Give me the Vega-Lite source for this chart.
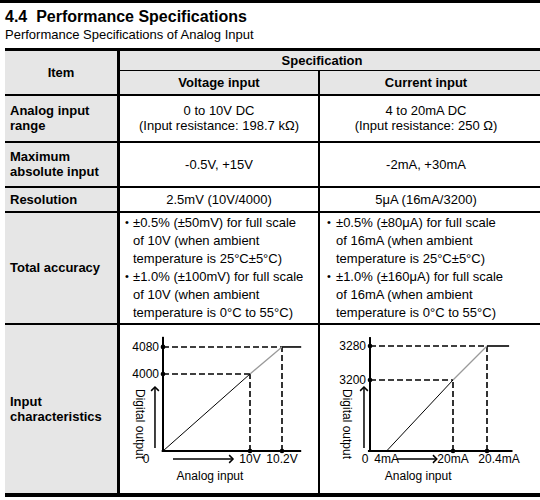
{
"$schema": "https://vega.github.io/schema/vega-lite/v6.json",
"padding": 0,
"background": "white",
"config": {
 "view": {"stroke": null},
 "concat": {"spacing": 0},
 "axis": {"disable": true},
 "text": {"font": "Liberation Sans", "fontSize": 13, "fill": "black"},
 "rule": {"color": "black"},
 "point": {"color": "black", "opacity": 1}
},
"datasets": {
 "header": [{"item": "Item", "spec": "Specification", "voltage": "Voltage input", "current": "Current input"}],
 "spec": [
  {"row": 1, "item": ["Analog input", "range"], "voltage": ["0 to 10V DC", "(Input resistance: 198.7 kΩ)"], "current": ["4 to 20mA DC", "(Input resistance: 250 Ω)"]},
  {"row": 2, "item": ["Maximum", "absolute input"], "voltage": "-0.5V, +15V", "current": "-2mA, +30mA"},
  {"row": 3, "item": "Resolution", "voltage": "2.5mV (10V/4000)", "current": "5μA (16mA/3200)"},
  {"row": 4, "item": "Total accuracy",
   "voltage": ["±0.5% (±50mV) for full scale", "of 10V (when ambient", "temperature is 25°C±5°C)", "±1.0% (±100mV) for full scale", "of 10V (when ambient", "temperature is 0°C to 55°C)"],
   "current": ["±0.5% (±80μA) for full scale", "of 16mA (when ambient", "temperature is 25°C±5°C)", "±1.0% (±160μA) for full scale", "of 16mA (when ambient", "temperature is 0°C to 55°C)"]},
  {"row": 5, "item": ["Input", "characteristics"]}
 ],
 "voltage_curve": [
  {"input": 0, "output": 0, "label": "0"},
  {"input": 10, "output": 4000, "label": "10V"},
  {"input": 10.2, "output": 4080, "label": "10.2V"}
 ],
 "voltage_lines": [
  {"part": "axis", "from_in": -0.15, "from_out": 0, "to_in": 10.32, "to_out": 0},
  {"part": "axis", "from_in": 0, "from_out": 0, "to_in": 0, "to_out": 4110},
  {"part": "guide", "from_in": 0, "from_out": 4000, "to_in": 10, "to_out": 4000},
  {"part": "guide", "from_in": 10, "from_out": 0, "to_in": 10, "to_out": 4000},
  {"part": "guide", "from_in": 0, "from_out": 4080, "to_in": 10.2, "to_out": 4080},
  {"part": "guide", "from_in": 10.2, "from_out": 0, "to_in": 10.2, "to_out": 4080},
  {"part": "conversion", "from_in": 0, "from_out": 0, "to_in": 10, "to_out": 4000},
  {"part": "over range", "from_in": 10, "from_out": 4000, "to_in": 10.2, "to_out": 4080},
  {"part": "limit", "from_in": 10.2, "from_out": 4080, "to_in": 10.32, "to_out": 4080},
  {"part": "arrow", "from_in": 1.15, "from_out": -416, "to_in": 8.05, "to_out": -416},
  {"part": "arrow", "from_in": -0.92, "from_out": 156, "to_in": -0.92, "to_out": 3325}
 ],
 "current_curve": [
  {"input": 0, "output": 0, "label": "0"},
  {"input": 4, "output": 0, "label": "4mA"},
  {"input": 20, "output": 3200, "label": "20mA"},
  {"input": 20.4, "output": 3280, "label": "20.4mA"}
 ],
 "current_lines": [
  {"part": "axis", "from_in": -0.5, "from_out": 0, "to_in": 20.7, "to_out": 0},
  {"part": "axis", "from_in": 0, "from_out": 0, "to_in": 0, "to_out": 3301},
  {"part": "guide", "from_in": 0, "from_out": 3200, "to_in": 20, "to_out": 3200},
  {"part": "guide", "from_in": 20, "from_out": 0, "to_in": 20, "to_out": 3200},
  {"part": "guide", "from_in": 0, "from_out": 3280, "to_in": 20.4, "to_out": 3280},
  {"part": "guide", "from_in": 20.4, "from_out": 0, "to_in": 20.4, "to_out": 3280},
  {"part": "conversion", "from_in": 4, "from_out": 0, "to_in": 20, "to_out": 3200},
  {"part": "over range", "from_in": 20, "from_out": 3200, "to_in": 20.4, "to_out": 3280},
  {"part": "limit", "from_in": 20.4, "from_out": 3280, "to_in": 20.66, "to_out": 3280},
  {"part": "arrow", "from_in": 6.5, "from_out": -361, "to_in": 16.1, "to_out": -361},
  {"part": "arrow", "from_in": -1.45, "from_out": 135, "to_in": -1.45, "to_out": 2884}
 ]
},
"spacing": 6,
"vconcat": [
 {"width": 540, "height": 3, "view": {"fill": "black", "stroke": null}, "data": {"values": []}, "mark": "text", "encoding": {}},
 {
  "title": {"text": "4.4\u00a0\u00a0Performance Specifications", "subtitle": "Performance Specifications of Analog Input", "anchor": "start", "frame": "group", "dx": 5, "font": "Liberation Sans", "fontSize": 16, "fontWeight": "bold", "color": "black", "subtitleFont": "Liberation Sans", "subtitleFontSize": 13, "subtitleFontWeight": "normal", "subtitleColor": "black", "subtitlePadding": 4, "offset": 6},
  "spacing": 0, "bounds": "full",
  "hconcat": [
   {"width": 5, "height": 10, "data": {"values": []}, "mark": "text", "encoding": {}},
   {
    "spacing": 0, "bounds": "full",
    "vconcat": [
     {"width": 535, "height": 3, "view": {"fill": "black", "stroke": null}, "data": {"values": []}, "mark": "text", "encoding": {}},
     {"spacing": 0, "bounds": "full", "hconcat": [
       {"width": 112, "height": 43, "view": {"fill": "#e6e6e6", "stroke": null}, "data": {"name": "header"}, "mark": {"type": "text", "fontWeight": "bold", "align": "center", "baseline": "middle"}, "encoding": {"text": {"field": "item", "type": "nominal"}}},
       {"width": 3, "height": 43, "view": {"fill": "black", "stroke": null}, "data": {"values": []}, "mark": "text", "encoding": {}},
       {"spacing": 0, "bounds": "full", "vconcat": [
         {"width": 420, "height": 19, "view": {"fill": "#e6e6e6", "stroke": null}, "data": {"name": "header"}, "mark": {"type": "text", "fontWeight": "bold", "align": "center", "baseline": "middle", "dx": -8}, "encoding": {"text": {"field": "spec", "type": "nominal"}}},
         {"width": 420, "height": 1, "view": {"fill": "black", "stroke": null}, "data": {"values": []}, "mark": "text", "encoding": {}},
         {"spacing": 0, "bounds": "flush", "hconcat": [
           {"width": 198, "height": 23, "view": {"fill": "#e6e6e6", "stroke": null}, "data": {"name": "header"}, "mark": {"type": "text", "fontWeight": "bold", "align": "center", "baseline": "middle"}, "encoding": {"text": {"field": "voltage", "type": "nominal"}}},
           {"width": 2, "height": 23, "view": {"fill": "black", "stroke": null}, "data": {"values": []}, "mark": "text", "encoding": {}},
           {"width": 220, "height": 23, "view": {"fill": "#e6e6e6", "stroke": null}, "data": {"name": "header"}, "mark": {"type": "text", "fontWeight": "bold", "align": "center", "baseline": "middle", "dx": -4}, "encoding": {"text": {"field": "current", "type": "nominal"}}}
         ]}
       ]}
     ]},
     {"width": 535, "height": 2, "view": {"fill": "black", "stroke": null}, "data": {"values": []}, "mark": "text", "encoding": {}},
     {"spacing": 0, "bounds": "flush", "hconcat": [
       {"width": 112, "height": 45, "view": {"fill": "#e6e6e6", "stroke": null}, "data": {"name": "spec"}, "transform": [{"filter": "datum.row == 1"}], "mark": {"type": "text", "fontWeight": "bold", "align": "left", "baseline": "middle", "lineHeight": 15, "dy": -7.5}, "encoding": {"text": {"field": "item", "type": "nominal"}, "x": {"value": 5}}},
       {"width": 3, "height": 45, "view": {"fill": "black", "stroke": null}, "data": {"values": []}, "mark": "text", "encoding": {}},
       {"width": 198, "height": 45, "data": {"name": "spec"}, "transform": [{"filter": "datum.row == 1"}], "mark": {"type": "text", "align": "center", "baseline": "middle", "lineHeight": 15, "dy": -7.5}, "encoding": {"text": {"field": "voltage", "type": "nominal"}}},
       {"width": 2, "height": 45, "view": {"fill": "black", "stroke": null}, "data": {"values": []}, "mark": "text", "encoding": {}},
       {"width": 220, "height": 45, "data": {"name": "spec"}, "transform": [{"filter": "datum.row == 1"}], "mark": {"type": "text", "align": "center", "baseline": "middle", "lineHeight": 15, "dy": -7.5, "dx": -4}, "encoding": {"text": {"field": "current", "type": "nominal"}}}
     ]},
     {"width": 535, "height": 2, "view": {"fill": "black", "stroke": null}, "data": {"values": []}, "mark": "text", "encoding": {}},
     {"spacing": 0, "bounds": "flush", "hconcat": [
       {"width": 112, "height": 43, "view": {"fill": "#e6e6e6", "stroke": null}, "data": {"name": "spec"}, "transform": [{"filter": "datum.row == 2"}], "mark": {"type": "text", "fontWeight": "bold", "align": "left", "baseline": "middle", "lineHeight": 15, "dy": -7.5}, "encoding": {"text": {"field": "item", "type": "nominal"}, "x": {"value": 5}}},
       {"width": 3, "height": 43, "view": {"fill": "black", "stroke": null}, "data": {"values": []}, "mark": "text", "encoding": {}},
       {"width": 198, "height": 43, "data": {"name": "spec"}, "transform": [{"filter": "datum.row == 2"}], "mark": {"type": "text", "align": "center", "baseline": "middle"}, "encoding": {"text": {"field": "voltage", "type": "nominal"}}},
       {"width": 2, "height": 43, "view": {"fill": "black", "stroke": null}, "data": {"values": []}, "mark": "text", "encoding": {}},
       {"width": 220, "height": 43, "data": {"name": "spec"}, "transform": [{"filter": "datum.row == 2"}], "mark": {"type": "text", "align": "center", "baseline": "middle", "dx": -4}, "encoding": {"text": {"field": "current", "type": "nominal"}}}
     ]},
     {"width": 535, "height": 2, "view": {"fill": "black", "stroke": null}, "data": {"values": []}, "mark": "text", "encoding": {}},
     {"spacing": 0, "bounds": "flush", "hconcat": [
       {"width": 112, "height": 23, "view": {"fill": "#e6e6e6", "stroke": null}, "data": {"name": "spec"}, "transform": [{"filter": "datum.row == 3"}], "mark": {"type": "text", "fontWeight": "bold", "align": "left", "baseline": "middle"}, "encoding": {"text": {"field": "item", "type": "nominal"}, "x": {"value": 5}}},
       {"width": 3, "height": 23, "view": {"fill": "black", "stroke": null}, "data": {"values": []}, "mark": "text", "encoding": {}},
       {"width": 198, "height": 23, "data": {"name": "spec"}, "transform": [{"filter": "datum.row == 3"}], "mark": {"type": "text", "align": "center", "baseline": "middle"}, "encoding": {"text": {"field": "voltage", "type": "nominal"}}},
       {"width": 2, "height": 23, "view": {"fill": "black", "stroke": null}, "data": {"values": []}, "mark": "text", "encoding": {}},
       {"width": 220, "height": 23, "data": {"name": "spec"}, "transform": [{"filter": "datum.row == 3"}], "mark": {"type": "text", "align": "center", "baseline": "middle", "dx": -4}, "encoding": {"text": {"field": "current", "type": "nominal"}}}
     ]},
     {"width": 535, "height": 2, "view": {"fill": "black", "stroke": null}, "data": {"values": []}, "mark": "text", "encoding": {}},
     {"spacing": 0, "bounds": "flush", "hconcat": [
       {"width": 112, "height": 110, "view": {"fill": "#e6e6e6", "stroke": null}, "data": {"name": "spec"}, "transform": [{"filter": "datum.row == 4"}], "mark": {"type": "text", "fontWeight": "bold", "align": "left", "baseline": "middle"}, "encoding": {"text": {"field": "item", "type": "nominal"}, "x": {"value": 5}}},
       {"width": 3, "height": 110, "view": {"fill": "black", "stroke": null}, "data": {"values": []}, "mark": "text", "encoding": {}},
       {"width": 198, "height": 110, "data": {"name": "spec"}, "transform": [{"filter": "datum.row == 4"}], "layer": [
         {"mark": {"type": "text", "align": "left", "baseline": "middle", "fontSize": 11, "dy": -45}, "encoding": {"text": {"value": "•"}, "x": {"value": 5}}},
         {"mark": {"type": "text", "align": "left", "baseline": "middle", "fontSize": 11, "dy": 9}, "encoding": {"text": {"value": "•"}, "x": {"value": 5}}},
         {"mark": {"type": "text", "align": "left", "baseline": "middle", "lineHeight": 18, "dy": -45}, "encoding": {"text": {"field": "voltage", "type": "nominal"}, "x": {"value": 13}}}
       ]},
       {"width": 2, "height": 110, "view": {"fill": "black", "stroke": null}, "data": {"values": []}, "mark": "text", "encoding": {}},
       {"width": 220, "height": 110, "data": {"name": "spec"}, "transform": [{"filter": "datum.row == 4"}], "layer": [
         {"mark": {"type": "text", "align": "left", "baseline": "middle", "fontSize": 11, "dy": -45}, "encoding": {"text": {"value": "•"}, "x": {"value": 7}}},
         {"mark": {"type": "text", "align": "left", "baseline": "middle", "fontSize": 11, "dy": 9}, "encoding": {"text": {"value": "•"}, "x": {"value": 7}}},
         {"mark": {"type": "text", "align": "left", "baseline": "middle", "lineHeight": 18, "dy": -45}, "encoding": {"text": {"field": "current", "type": "nominal"}, "x": {"value": 16}}}
       ]}
     ]},
     {"width": 535, "height": 2, "view": {"fill": "black", "stroke": null}, "data": {"values": []}, "mark": "text", "encoding": {}},
     {"spacing": 0, "bounds": "flush", "hconcat": [
       {"width": 112, "height": 168, "view": {"fill": "#e6e6e6", "stroke": null}, "data": {"name": "spec"}, "transform": [{"filter": "datum.row == 5"}], "mark": {"type": "text", "fontWeight": "bold", "align": "left", "baseline": "middle", "lineHeight": 15, "dy": -7.5}, "encoding": {"text": {"field": "item", "type": "nominal"}, "x": {"value": 5}}},
       {"width": 3, "height": 168, "view": {"fill": "black", "stroke": null}, "data": {"values": []}, "mark": "text", "encoding": {}},
       {"width": 198, "height": 168, "layer": [
         {"data": {"name": "voltage_lines"}, "transform": [{"filter": "datum.part == 'axis'"}], "mark": {"type": "rule", "strokeWidth": 2}, "encoding": {"x": {"field": "from_in", "type": "quantitative", "scale": {"domain": [-4.94, 10, 10.425], "range": [0, 130, 198], "nice": false, "zero": false}}, "x2": {"field": "to_in"}, "y": {"field": "from_out", "type": "quantitative", "scale": {"domain": [-2182, 4000, 4145], "range": [168, 49, 0], "nice": false, "zero": false}}, "y2": {"field": "to_out"}}},
         {"data": {"name": "voltage_lines"}, "transform": [{"filter": "datum.part == 'guide'"}], "mark": {"type": "rule", "strokeDash": [6, 3], "strokeWidth": 1.6}, "encoding": {"x": {"field": "from_in", "type": "quantitative"}, "x2": {"field": "to_in"}, "y": {"field": "from_out", "type": "quantitative"}, "y2": {"field": "to_out"}}},
         {"data": {"name": "voltage_lines"}, "transform": [{"filter": "datum.part == 'conversion' || datum.part == 'over range' || datum.part == 'limit'"}], "mark": {"type": "rule"}, "encoding": {"x": {"field": "from_in", "type": "quantitative"}, "x2": {"field": "to_in"}, "y": {"field": "from_out", "type": "quantitative"}, "y2": {"field": "to_out"}, "color": {"field": "part", "type": "nominal", "scale": {"domain": ["conversion", "over range", "limit"], "range": ["#000000", "#9a9a9a", "#000000"]}, "legend": null}, "strokeWidth": {"field": "part", "type": "ordinal", "scale": {"domain": ["conversion", "over range", "limit"], "range": [1, 1.6, 2]}, "legend": null}}},
         {"data": {"name": "voltage_lines"}, "transform": [{"filter": "datum.part == 'arrow'"}], "mark": {"type": "rule", "strokeWidth": 1.5}, "encoding": {"x": {"field": "from_in", "type": "quantitative"}, "x2": {"field": "to_in"}, "y": {"field": "from_out", "type": "quantitative"}, "y2": {"field": "to_out"}}},
         {"data": {"name": "voltage_lines"}, "transform": [{"filter": "datum.part == 'arrow' && datum.from_out == datum.to_out"}], "mark": {"type": "point", "shape": "M -1 -1 L 0 0 L -1 1", "filled": false, "size": 60, "strokeWidth": 1.5}, "encoding": {"x": {"field": "to_in", "type": "quantitative"}, "y": {"field": "to_out", "type": "quantitative"}}},
         {"data": {"name": "voltage_lines"}, "transform": [{"filter": "datum.part == 'arrow' && datum.from_in == datum.to_in"}], "mark": {"type": "point", "shape": "M -1 1 L 0 0 L 1 1", "filled": false, "size": 60, "strokeWidth": 1.5}, "encoding": {"x": {"field": "to_in", "type": "quantitative"}, "y": {"field": "to_out", "type": "quantitative"}}},
         {"data": {"name": "voltage_curve"}, "transform": [{"filter": "datum.output > 0"}], "mark": {"type": "point", "filled": true, "size": 22}, "encoding": {"x": {"datum": 0}, "y": {"field": "output", "type": "quantitative"}}},
         {"data": {"name": "voltage_curve"}, "transform": [{"filter": "datum.output > 0"}], "mark": {"type": "point", "filled": true, "size": 22}, "encoding": {"x": {"field": "input", "type": "quantitative"}, "y": {"datum": 0}}},
         {"data": {"name": "voltage_curve"}, "transform": [{"filter": "datum.output > 0"}], "mark": {"type": "text", "align": "right", "baseline": "middle", "dx": -4, "fontSize": 12}, "encoding": {"x": {"datum": 0}, "y": {"field": "output", "type": "quantitative"}, "text": {"field": "output", "type": "quantitative", "format": "d"}}},
         {"data": {"name": "voltage_curve"}, "transform": [{"filter": "datum.input > 0"}], "mark": {"type": "text", "align": "center", "baseline": "middle", "dy": 8, "fontSize": 12}, "encoding": {"x": {"field": "input", "type": "quantitative"}, "y": {"datum": 0}, "text": {"field": "label", "type": "nominal"}}},
         {"data": {"name": "voltage_curve"}, "transform": [{"filter": "datum.input == 0"}], "mark": {"type": "text", "align": "center", "baseline": "middle", "dy": 8, "dx": -17, "fontSize": 12}, "encoding": {"x": {"field": "input", "type": "quantitative"}, "y": {"datum": 0}, "text": {"field": "label", "type": "nominal"}}},
         {"data": {"values": [{"text": "Digital output"}]}, "mark": {"type": "text", "angle": 90, "align": "center", "baseline": "middle", "fontSize": 12}, "encoding": {"x": {"datum": -2.64}, "y": {"datum": 1400}, "text": {"field": "text", "type": "nominal"}}},
         {"data": {"values": [{"text": "Analog input"}]}, "mark": {"type": "text", "align": "center", "baseline": "middle", "dy": 25, "fontSize": 12}, "encoding": {"x": {"datum": 5.4}, "y": {"datum": 0}, "text": {"field": "text", "type": "nominal"}}}
       ]},
       {"width": 2, "height": 168, "view": {"fill": "black", "stroke": null}, "data": {"values": []}, "mark": "text", "encoding": {}},
       {"width": 220, "height": 168, "layer": [
         {"data": {"name": "current_lines"}, "transform": [{"filter": "datum.part == 'axis'"}], "mark": {"type": "rule", "strokeWidth": 2}, "encoding": {"x": {"field": "from_in", "type": "quantitative", "scale": {"domain": [-12.05, 20, 21.0235], "range": [0, 133, 220], "nice": false, "zero": false}}, "x2": {"field": "to_in"}, "y": {"field": "from_out", "type": "quantitative", "scale": {"domain": [-1893, 3200, 3329.4], "range": [168, 55, 0], "nice": false, "zero": false}}, "y2": {"field": "to_out"}}},
         {"data": {"name": "current_lines"}, "transform": [{"filter": "datum.part == 'guide'"}], "mark": {"type": "rule", "strokeDash": [6, 3], "strokeWidth": 1.6}, "encoding": {"x": {"field": "from_in", "type": "quantitative"}, "x2": {"field": "to_in"}, "y": {"field": "from_out", "type": "quantitative"}, "y2": {"field": "to_out"}}},
         {"data": {"name": "current_lines"}, "transform": [{"filter": "datum.part == 'conversion' || datum.part == 'over range' || datum.part == 'limit'"}], "mark": {"type": "rule"}, "encoding": {"x": {"field": "from_in", "type": "quantitative"}, "x2": {"field": "to_in"}, "y": {"field": "from_out", "type": "quantitative"}, "y2": {"field": "to_out"}, "color": {"field": "part", "type": "nominal", "scale": {"domain": ["conversion", "over range", "limit"], "range": ["#000000", "#9a9a9a", "#000000"]}, "legend": null}, "strokeWidth": {"field": "part", "type": "ordinal", "scale": {"domain": ["conversion", "over range", "limit"], "range": [1, 1.6, 2]}, "legend": null}}},
         {"data": {"name": "current_lines"}, "transform": [{"filter": "datum.part == 'arrow'"}], "mark": {"type": "rule", "strokeWidth": 1.5}, "encoding": {"x": {"field": "from_in", "type": "quantitative"}, "x2": {"field": "to_in"}, "y": {"field": "from_out", "type": "quantitative"}, "y2": {"field": "to_out"}}},
         {"data": {"name": "current_lines"}, "transform": [{"filter": "datum.part == 'arrow' && datum.from_out == datum.to_out"}], "mark": {"type": "point", "shape": "M -1 -1 L 0 0 L -1 1", "filled": false, "size": 60, "strokeWidth": 1.5}, "encoding": {"x": {"field": "to_in", "type": "quantitative"}, "y": {"field": "to_out", "type": "quantitative"}}},
         {"data": {"name": "current_lines"}, "transform": [{"filter": "datum.part == 'arrow' && datum.from_in == datum.to_in"}], "mark": {"type": "point", "shape": "M -1 1 L 0 0 L 1 1", "filled": false, "size": 60, "strokeWidth": 1.5}, "encoding": {"x": {"field": "to_in", "type": "quantitative"}, "y": {"field": "to_out", "type": "quantitative"}}},
         {"data": {"name": "current_curve"}, "transform": [{"filter": "datum.output > 0"}], "mark": {"type": "point", "filled": true, "size": 22}, "encoding": {"x": {"datum": 0}, "y": {"field": "output", "type": "quantitative"}}},
         {"data": {"name": "current_curve"}, "transform": [{"filter": "datum.output > 0"}], "mark": {"type": "point", "filled": true, "size": 22}, "encoding": {"x": {"field": "input", "type": "quantitative"}, "y": {"datum": 0}}},
         {"data": {"name": "current_curve"}, "transform": [{"filter": "datum.output > 0"}], "mark": {"type": "text", "align": "right", "baseline": "middle", "dx": -4, "fontSize": 12}, "encoding": {"x": {"datum": 0}, "y": {"field": "output", "type": "quantitative"}, "text": {"field": "output", "type": "quantitative", "format": "d"}}},
         {"data": {"name": "current_curve"}, "transform": [{"filter": "datum.input > 0 && datum.input < 20.2"}], "mark": {"type": "text", "align": "center", "baseline": "middle", "dy": 8, "fontSize": 12}, "encoding": {"x": {"field": "input", "type": "quantitative"}, "y": {"datum": 0}, "text": {"field": "label", "type": "nominal"}}},
         {"data": {"name": "current_curve"}, "transform": [{"filter": "datum.input > 20.2"}], "mark": {"type": "text", "align": "center", "baseline": "middle", "dy": 8, "dx": 12, "fontSize": 12}, "encoding": {"x": {"field": "input", "type": "quantitative"}, "y": {"datum": 0}, "text": {"field": "label", "type": "nominal"}}},
         {"data": {"name": "current_curve"}, "transform": [{"filter": "datum.input == 0"}], "mark": {"type": "text", "align": "center", "baseline": "middle", "dy": 8, "dx": -5, "fontSize": 12}, "encoding": {"x": {"field": "input", "type": "quantitative"}, "y": {"datum": 0}, "text": {"field": "label", "type": "nominal"}}},
         {"data": {"values": [{"text": "Digital output"}]}, "mark": {"type": "text", "angle": 90, "align": "center", "baseline": "middle", "fontSize": 12}, "encoding": {"x": {"datum": -5.54}, "y": {"datum": 1217}, "text": {"field": "text", "type": "nominal"}}},
         {"data": {"values": [{"text": "Analog input"}]}, "mark": {"type": "text", "align": "center", "baseline": "middle", "dy": 25, "fontSize": 12}, "encoding": {"x": {"datum": 11.6}, "y": {"datum": 0}, "text": {"field": "text", "type": "nominal"}}}
       ]}
     ]},
     {"width": 535, "height": 4, "view": {"fill": "black", "stroke": null}, "data": {"values": []}, "mark": "text", "encoding": {}}
    ]
   }
  ]
 }
]
}
